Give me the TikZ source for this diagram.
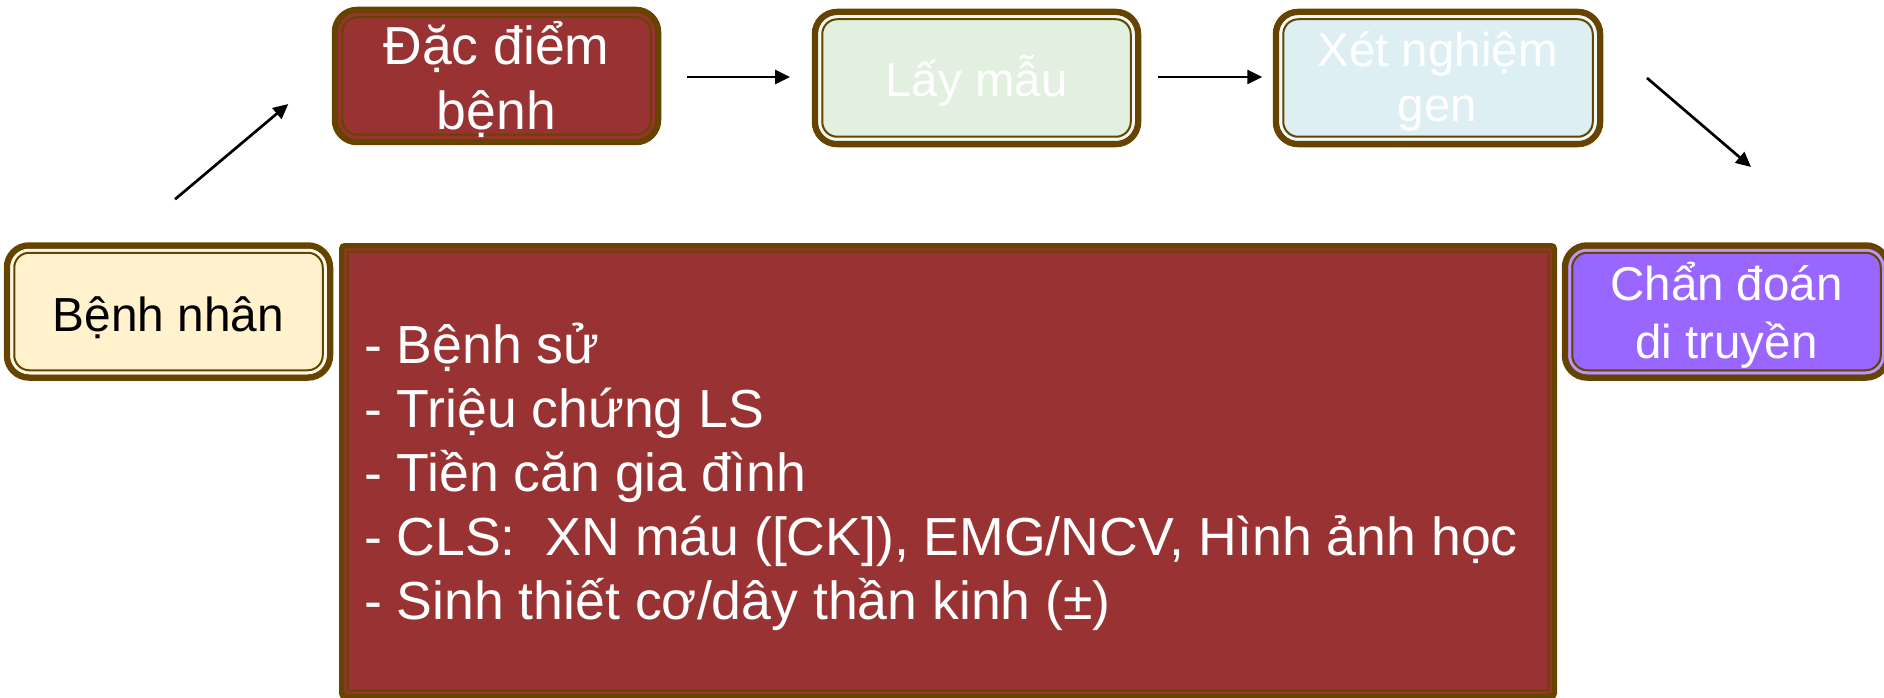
\documentclass[tikz,border=0pt]{standalone}
\usepackage{fontspec}
\setmainfont{Liberation Sans}
\usetikzlibrary{arrows.meta}
\definecolor{frameBrown}{HTML}{664400}
\definecolor{redFill}{HTML}{993333}
\definecolor{creamFill}{HTML}{FFF2CC}
\definecolor{greenFill}{HTML}{E2F0E0}
\definecolor{blueFill}{HTML}{DEEFF3}
\definecolor{purpleFill}{HTML}{9966FF}
\tikzset{
  rbox/.style={rectangle, rounded corners=22pt, draw=frameBrown, line width=6.5pt,
    minimum width=323pt, minimum height=132pt, inner sep=0pt, outer sep=0pt},
  bigbox/.style={rectangle, rounded corners=3pt, draw=frameBrown, line width=5.5pt,
    fill=redFill, minimum width=1212.5pt, minimum height=450.5pt, inner sep=0pt, outer sep=0pt},
  lbl/.style={inner sep=0pt, outer sep=0pt, anchor=base},
  arr/.style={line width=2.7pt, -{Triangle[length=15pt,width=14pt]}},
}
\newcommand\roundframe[2]{%
  \draw[#2, line width=3pt, rounded corners=17.5pt]
    ([shift={(4.75,4.75)}]#1.north west) rectangle ([shift={(-4.75,-4.75)}]#1.south east);
  \draw[frameBrown, line width=2pt, rounded corners=15pt]
    ([shift={(7.25,7.25)}]#1.north west) rectangle ([shift={(-7.25,-7.25)}]#1.south east);
}
\begin{document}
\begin{tikzpicture}[x=1pt, y=-1pt]
\useasboundingbox[fill=white] (0,0) rectangle (1884,698);

% boxes
\node[rbox, fill=creamFill] (bn) at (168.5,311.5) {};
\roundframe{bn}{creamFill!40!white}
\node[rbox, fill=redFill] (dd) at (496.5,76) {};
\roundframe{dd}{redFill}
\node[rbox, fill=greenFill] (lm) at (976.5,78) {};
\roundframe{lm}{greenFill!40!white}
\node[rbox, fill=blueFill, minimum width=324pt] (xn) at (1438,78) {};
\roundframe{xn}{blueFill!40!white}
\node[rbox, fill=purpleFill] (cd) at (1726.5,311.5) {};
\roundframe{cd}{purpleFill!70!white}
\node[bigbox] (big) at (948,471) {};
\draw[redFill, line width=2pt, rounded corners=2pt]
  ([shift={(3.75,3.75)}]big.north west) rectangle ([shift={(-3.75,-3.75)}]big.south east);
\draw[frameBrown, line width=2pt, rounded corners=1pt]
  ([shift={(5.75,5.75)}]big.north west) rectangle ([shift={(-5.75,-5.75)}]big.south east);

% texts
\node[lbl, font=\fontsize{47.8}{57}\selectfont] (bnT) at (168.5,331) {Bệnh nhân};
\node[lbl, text=white, font=\fontsize{53.5}{65}\selectfont] (ddT) at (496.5,129)
  {\begin{tabular}[b]{@{}c@{}}Đặc điểm\\bệnh\end{tabular}};
\node[lbl, text=white, font=\fontsize{47.5}{57}\selectfont] (lmT) at (976.5,97) {Lấy mẫu};
\node[lbl, text=white, font=\fontsize{47.5}{55}\selectfont] (xnT) at (1437.5,122)
  {\begin{tabular}[b]{@{}c@{}}Xét nghiệm\\gen\end{tabular}};
\node[lbl, text=white, font=\fontsize{47.5}{58}\selectfont] (cdT) at (1726.5,358)
  {\begin{tabular}[b]{@{}c@{}}Chẩn đoán\\di truyền\end{tabular}};
\node[lbl, anchor=base west, text=white, font=\fontsize{53.6}{64}\selectfont] (listT) at (364,363)
  {\begin{tabular}[t]{@{}l@{}}- Bệnh sử\\- Triệu chứng LS\\- Tiền căn gia đình\\- CLS:~ XN máu ([CK]), EMG/NCV, Hình ảnh học\\- Sinh thiết cơ/dây thần kinh (±)\end{tabular}};

% arrows
\coordinate (a1s) at (175,199.3);
\coordinate (a1e) at (288.3,104);
\coordinate (a2s) at (686.7,77);
\coordinate (a2e) at (790,77);
\coordinate (a3s) at (1158.3,77);
\coordinate (a3e) at (1262.3,77);
\coordinate (a4s) at (1647,78);
\coordinate (a4e) at (1751,167);
\draw[arr] (a1s) -- (a1e);
\draw[arr] (a2s) -- (a2e);
\draw[arr] (a3s) -- (a3e);
\draw[arr] (a4s) -- (a4e);
\end{tikzpicture}
\end{document}
